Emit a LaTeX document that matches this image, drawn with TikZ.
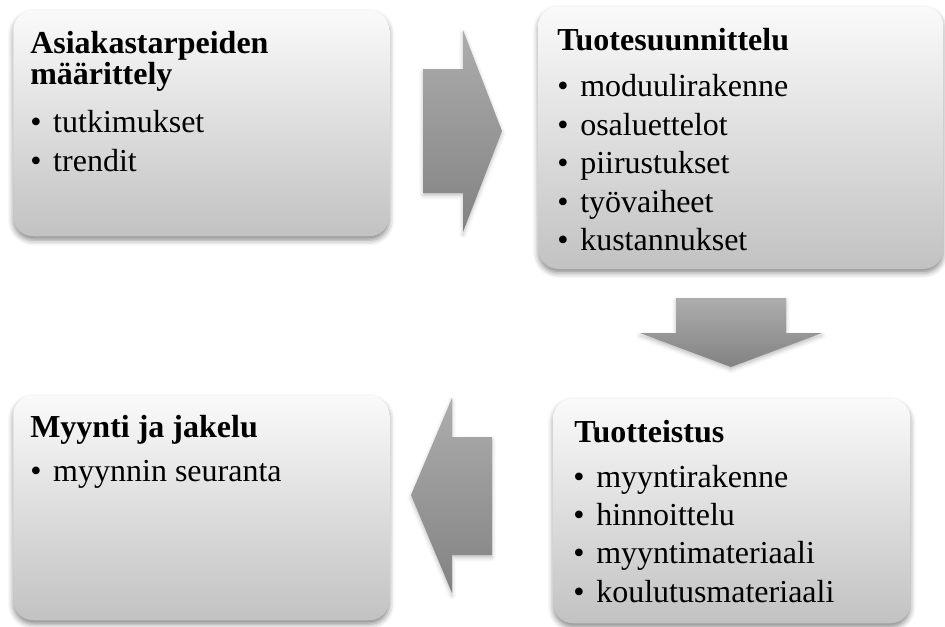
\documentclass[tikz,border=0pt]{standalone}
\usepackage{fontspec}
\setmainfont{Liberation Serif}
\usetikzlibrary{shadows.blur}

\definecolor{boxtop}{HTML}{FAFAFA}
\definecolor{boxbot}{HTML}{C2C2C2}
\definecolor{arrtop}{HTML}{ADADAD}
\definecolor{arrbot}{HTML}{828282}

% one bullet entry of a list
\newcommand{\listentry}[1]{\makebox[17.25pt][l]{•}#1}

\tikzset{
  box/.style={rounded corners=15pt, top color=boxtop, bottom color=boxbot,
    draw=none, anchor=north west, inner sep=0pt,
    blur shadow={shadow xshift=0pt, shadow yshift=-3pt,
      shadow blur radius=4pt, shadow opacity=45}},
  blockarrow/.style={top color=arrtop, bottom color=arrbot, draw=none,
    blur shadow={shadow xshift=0pt, shadow yshift=-2pt,
      shadow blur radius=3pt, shadow opacity=25}},
  ttl/.style={anchor=base west, inner sep=0pt,
    font=\fontsize{24}{28}\selectfont\bfseries},
  itm/.style={anchor=base west, inner sep=0pt,
    font=\fontsize{24}{28}\selectfont},
}

\begin{document}
\begin{tikzpicture}[x=0.75pt, y=-0.75pt]
  \useasboundingbox (0,0) rectangle (945,626);

  % boxes
  \node[box, minimum width=282pt, minimum height=169.5pt] (b1) at (13,10) {};
  \node[box, minimum width=303.75pt, minimum height=197pt] (b2) at (538,6) {};
  \node[box, minimum width=267.75pt, minimum height=168.75pt] (b3) at (553,398) {};
  \node[box, minimum width=282pt, minimum height=168.75pt] (b4) at (13,395) {};

  % block arrows between the boxes
  \path[blockarrow] (423,69) -- (463,69) -- (463,30) -- (502,131)
    -- (463,232) -- (463,193) -- (423,193) -- cycle;
  \path[blockarrow] (676,298) -- (786,298) -- (786,333) -- (822,333)
    -- (731,367) -- (640,333) -- (676,333) -- cycle;
  \path[blockarrow] (492,437) -- (452,437) -- (452,398) -- (411,495)
    -- (452,593) -- (452,555) -- (492,555) -- cycle;

  % Asiakastarpeiden määrittely
  \node[ttl] (t1a) at (30,53) {Asiakastarpeiden};
  \node[ttl] (t1b) at (30,84) {määrittely};
  \node[itm] (i1a) at (30,132) {\listentry{tutkimukset}};
  \node[itm] (i1b) at (30,171) {\listentry{trendit}};

  % Tuotesuunnittelu
  \node[ttl] (t2) at (557,50) {Tuotesuunnittelu};
  \node[itm] (i2a) at (557,96) {\listentry{moduulirakenne}};
  \node[itm] (i2b) at (557,135) {\listentry{osaluettelot}};
  \node[itm] (i2c) at (557,173) {\listentry{piirustukset}};
  \node[itm] (i2d) at (557,212) {\listentry{työvaiheet}};
  \node[itm] (i2e) at (557,250) {\listentry{kustannukset}};

  % Tuotteistus
  \node[ttl] (t3) at (574,442) {Tuotteistus};
  \node[itm] (i3a) at (573,487) {\listentry{myyntirakenne}};
  \node[itm] (i3b) at (573,525) {\listentry{hinnoittelu}};
  \node[itm] (i3c) at (573,563) {\listentry{myyntimateriaali}};
  \node[itm] (i3d) at (573,602) {\listentry{koulutusmateriaali}};

  % Myynti ja jakelu
  \node[ttl] (t4) at (30,437) {Myynti ja jakelu};
  \node[itm] (i4a) at (30,481) {\listentry{myynnin seuranta}};
\end{tikzpicture}
\end{document}
